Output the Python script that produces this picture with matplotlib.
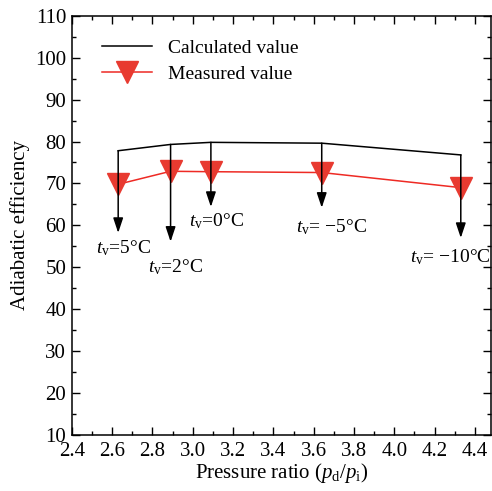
import numpy as np
import matplotlib.pyplot as plt
from matplotlib.ticker import MultipleLocator

plt.rcParams['font.family'] = ['Liberation Serif', 'DejaVu Serif']
plt.rcParams['mathtext.fontset'] = 'custom'
plt.rcParams['mathtext.rm'] = 'Liberation Serif'
plt.rcParams['mathtext.it'] = 'Liberation Serif:italic'

# pressure ratio at each suction temperature
ratio = [2.63, 2.89, 3.09, 3.64, 4.33]
calc_eff = [77.8, 79.3, 79.8, 79.6, 76.8]
meas_eff = [69.8, 72.9, 72.8, 72.6, 69.0]
arrow_end = [58.2, 56.1, 64.4, 64.2, 57.0]
temps = ['5', '2', '0', ' \u22125', ' \u221210']
label_xy = [(2.52, 54.6), (2.78, 50.1), (2.98, 61.1), (3.51, 59.6), (4.08, 52.5)]

fig = plt.figure(figsize=(4.92, 4.91), dpi=100)
ax = fig.add_axes([0.146, 0.114, 0.852, 0.854])

ax.plot(ratio, calc_eff, color='black', lw=1.1, label='Calculated value')
ax.plot(ratio, meas_eff, color='#ee2a24', lw=1.1, marker='v', ms=16,
        mfc='#e83a30', mec='#e83a30', label='Measured value')

for x, y0, y1 in zip(ratio, calc_eff, arrow_end):
    ax.annotate('', xy=(x, y1), xytext=(x, y0),
                arrowprops=dict(arrowstyle='-|>,head_length=0.9,head_width=0.3',
                                color='black', lw=1.1, shrinkA=0, shrinkB=0))

for t, (lx, ly) in zip(temps, label_xy):
    ax.text(lx, ly, r'$t_{\mathrm{v}}$=' + t + '\u00b0C', fontsize=14,
            ha='left', va='center')

ax.set_xlim(2.4, 4.48)
ax.set_ylim(10, 110)
ax.xaxis.set_major_locator(MultipleLocator(0.2))
ax.xaxis.set_minor_locator(MultipleLocator(0.1))
ax.yaxis.set_major_locator(MultipleLocator(10))
ax.yaxis.set_minor_locator(MultipleLocator(5))
ax.tick_params(which='both', direction='in', top=True, right=True,
               labelsize=15, width=1.0)
ax.tick_params(axis='x', pad=5)
ax.tick_params(axis='y', pad=4)
ax.tick_params(which='major', length=6)
ax.tick_params(which='minor', length=3)
for s in ax.spines.values():
    s.set_linewidth(1.1)

ax.set_xlabel(r'Pressure ratio ($p_{\mathrm{d}}$/$p_{\mathrm{i}}$)', fontsize=15, labelpad=0)
ax.set_ylabel('Adiabatic efficiency', fontsize=15, labelpad=4)

ax.legend(loc='upper left', frameon=False, fontsize=14, handlelength=2.6,
          borderaxespad=0.5, bbox_to_anchor=(0.03, 0.985), labelspacing=0.4)

fig.savefig('out.png', dpi=100)
